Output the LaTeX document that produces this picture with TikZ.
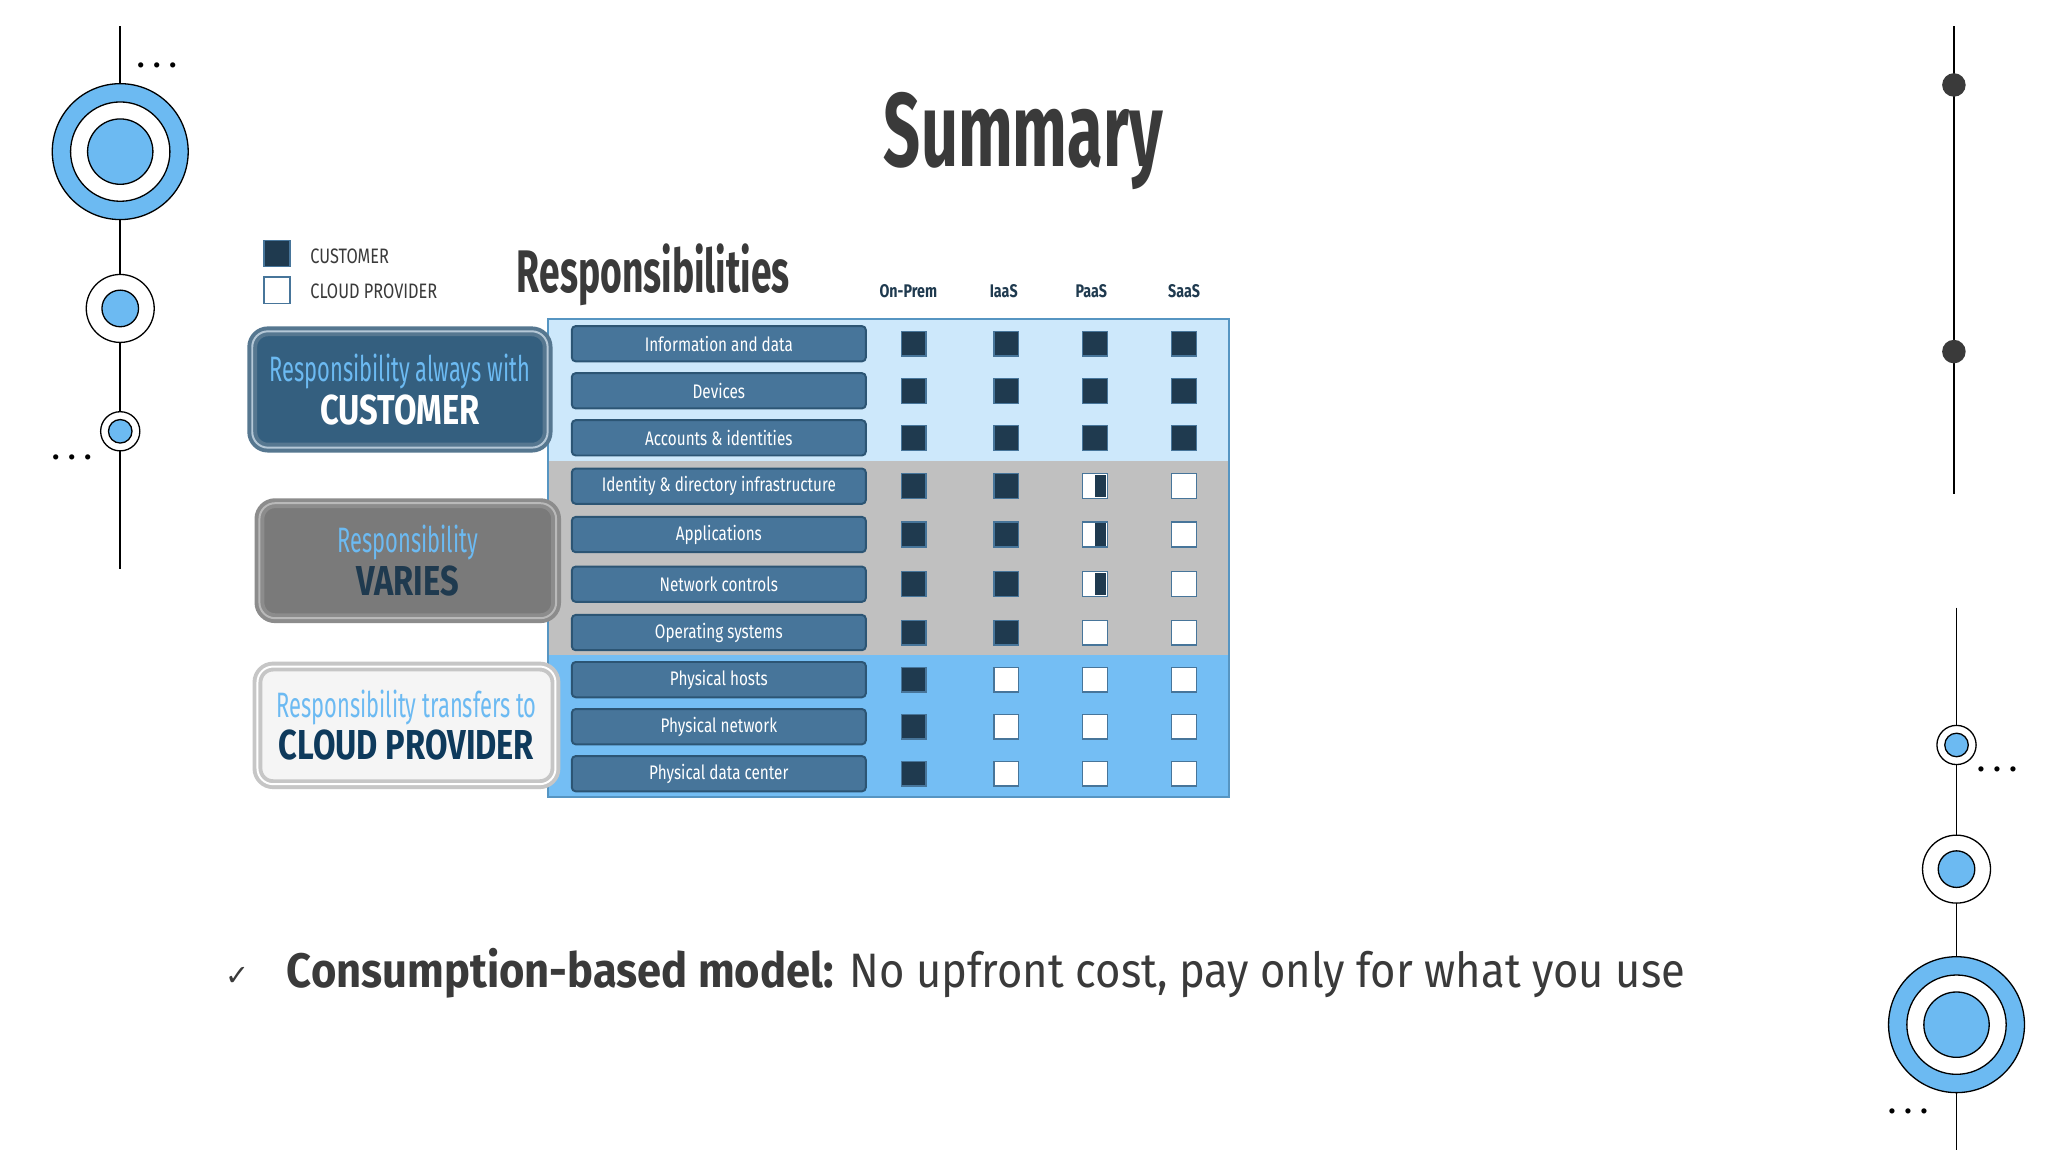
\documentclass[tikz,border=0pt]{standalone}
\usepackage{fontspec}
\setmainfont{Fira Sans}
\newfontfamily\cond[FakeStretch=0.78]{Fira Sans}
\newfontfamily\xcond[FakeStretch=0.62]{Fira Sans}
\newfontfamily\bcond[FakeStretch=0.9]{Fira Sans}
\newfontfamily\dejavu{DejaVu Sans}
\definecolor{lblue}{HTML}{6CBAF2}
\definecolor{band1}{HTML}{CDE8FB}
\definecolor{band2}{HTML}{C0C0C0}
\definecolor{band3}{HTML}{74BEF4}
\definecolor{pill}{HTML}{47759A}
\definecolor{pillb}{HTML}{2C5574}
\definecolor{dsq}{HTML}{1F3A4F}
\definecolor{navy}{HTML}{0E3A5C}
\definecolor{txt}{HTML}{3A3A3A}
\tikzset{
  pillbox/.style={draw=pillb,line width=1.5pt,fill=pill,rounded corners=3pt,minimum width=225pt,minimum height=27pt,inner sep=0pt,text=white,font=\cond\fontsize{15}{17}\selectfont},
  sqd/.style={draw=pill,line width=1pt,fill=dsq,minimum size=19pt,inner sep=0pt},
  sqw/.style={draw=pill,line width=1pt,fill=white,minimum size=19pt,inner sep=0pt},
  ring/.style={draw=black,line width=1pt},
  hdr/.style={font=\cond\bfseries\fontsize{14}{16}\selectfont,text=dsq},
  dotsx/.style={font=\fontsize{22}{22}\selectfont\bfseries,text=black}
}
\begin{document}
\begin{tikzpicture}[x=1pt,y=-1pt]
\useasboundingbox[fill=white] (0,0) rectangle (1567,881.5);
% left decor
\draw[line width=1.2pt] (92,20) -- (92,435);
\draw[ring,fill=lblue] (92,116) circle (52); \draw[ring,fill=white] (92,116) circle (38); \draw[ring,fill=lblue] (92,116) circle (25);
\draw[ring,fill=white] (92,236) circle (26); \draw[ring,fill=lblue] (92,236) circle (14);
\draw[ring,fill=white] (92,330) circle (15); \draw[ring,fill=lblue] (92,330) circle (9);
\node[dotsx] (d1) at (120,50) {. . .};
\node[dotsx] (d2) at (55,350) {. . .};
% right decor
\draw[line width=1.2pt] (1495,20) -- (1495,378);
\fill[txt] (1495,65) circle (9); \fill[txt] (1495,269) circle (9);
\draw[line width=1.2pt] (1497,465) -- (1497,880);
\draw[ring,fill=white] (1497,570) circle (15); \draw[ring,fill=lblue] (1497,570) circle (9);
\draw[ring,fill=white] (1497,665) circle (26); \draw[ring,fill=lblue] (1497,665) circle (14);
\draw[ring,fill=lblue] (1497,784) circle (52); \draw[ring,fill=white] (1497,784) circle (38); \draw[ring,fill=lblue] (1497,784) circle (25);
\node[dotsx] (d3) at (1528,589) {. . .};
\node[dotsx] (d4) at (1460,850) {. . .};
% title
\node[font=\xcond\bfseries\fontsize{80}{80}\selectfont,text=txt] (title) at (783,108) {Summary};
% legend
\node[sqd,minimum size=20pt] (lg1) at (212,194) {};
\node[sqw,minimum size=20pt] (lg2) at (212,222) {};
\node[anchor=west,font=\cond\fontsize{16}{18}\selectfont,text=txt] (lt1) at (234,196) {CUSTOMER};
\node[anchor=west,font=\cond\fontsize{16}{18}\selectfont,text=txt] (lt2) at (234,223) {CLOUD PROVIDER};
\node[anchor=west,font=\xcond\bfseries\fontsize{46}{50}\selectfont,text=txt] (resp) at (392,210) {Responsibilities};
\node[hdr] (h1) at (695,223) {On-Prem};
\node[hdr] (h2) at (768,223) {IaaS};
\node[hdr] (h3) at (835,223) {PaaS};
\node[hdr] (h4) at (906,223) {SaaS};
% table bands
\fill[band1] (419,244) rectangle (940,353);
\fill[band2] (419,353) rectangle (940,501);
\fill[band3] (419,501) rectangle (940,610);
\draw[draw=lblue!80!black,line width=1.5pt] (419,244) rectangle (940,610);
\foreach \y/\t/\a/\b/\c/\d in {
 263/Information and data/d/d/d/d,
 299/Devices/d/d/d/d,
 335/Accounts \& identities/d/d/d/d,
 372/Identity \& directory infrastructure/d/d/h/w,
 409/Applications/d/d/h/w,
 447/Network controls/d/d/h/w,
 484/Operating systems/d/d/w/w,
 520/Physical hosts/d/w/w/w,
 556/Physical network/d/w/w/w,
 592/Physical data center/d/w/w/w}{
  \node[pillbox] (p\y) at (550,\y) {\t};
  \foreach \s/\x in {\a/699,\b/770,\c/838,\d/906}{
    \if\s d\node[sqd] (s\y-\x) at (\x,\y) {};\fi
    \if\s w\node[sqw] (s\y-\x) at (\x,\y) {};\fi
    \if\s h\node[sqw] (s\y-\x) at (\x,\y) {};\fill[dsq] (\x,\y-8.5) rectangle (\x+8.5,\y+8.5);\fi
  }
}
% label boxes
\node[draw=pillb!80,line width=3pt,fill=pillb!70!pill,rounded corners=12pt,minimum width=226pt,minimum height=89pt,align=center,
  double=white!60!pill,double distance=1.5pt] (b1) at (306,298)
  {{\xcond\fontsize{27}{28}\selectfont\color{lblue}Responsibility always with}\\[3pt]{\cond\bfseries\fontsize{32}{34}\selectfont\color{white}CUSTOMER}};
\node[draw=gray!90,line width=3pt,fill=gray!90!black!95,rounded corners=12pt,minimum width=227pt,minimum height=88pt,align=center,
  double=gray!55,double distance=1.5pt] (b2) at (312,429)
  {{\xcond\fontsize{27}{28}\selectfont\color{lblue}Responsibility}\\[3pt]{\cond\bfseries\fontsize{32}{34}\selectfont\color{dsq}VARIES}};
\node[draw=gray!45,line width=3pt,fill=gray!8,rounded corners=12pt,minimum width=228pt,minimum height=90pt,align=center,
  double=white,double distance=1.5pt] (b3) at (311,555)
  {{\xcond\fontsize{27}{28}\selectfont\color{lblue}Responsibility transfers to}\\[3pt]{\cond\bfseries\fontsize{32}{34}\selectfont\color{navy}CLOUD PROVIDER}};
% bottom
\node[font=\dejavu\fontsize{22}{22}\selectfont,text=txt] (chk) at (182,747) {✓};
\node[anchor=west,font=\bcond\fontsize{37}{40}\selectfont,text=txt] (bt) at (216,745)
  {{\bfseries Consumption-based model:} No upfront cost, pay only for what you use};
\end{tikzpicture}
\end{document}
